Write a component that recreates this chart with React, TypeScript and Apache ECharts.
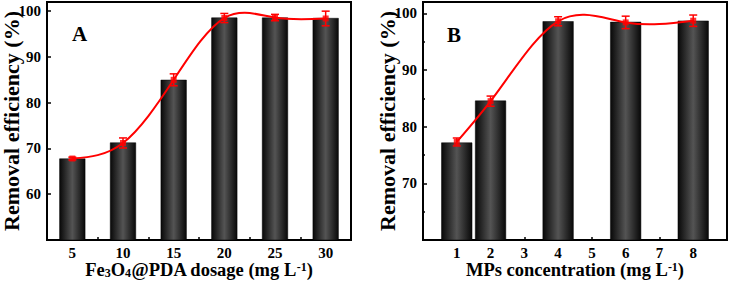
import React, { useEffect, useRef } from "react";
import * as echarts from "echarts";

// Panel A: Fe3O4@PDA dosage
const dosageCategories = ["5", "10", "15", "20", "25", "30"];
const dosageX = [5, 10, 15, 20, 25, 30];
const dosageBarValues = [67.8, 71.3, 85.0, 98.6, 98.6, 98.5];
const dosageLineValues = [67.8, 71.2, 85.0, 98.5, 98.6, 98.4];
const dosageErrors = [0.3, 1.1, 1.3, 1.0, 0.7, 1.6];

// Panel B: MPs concentration
const concX = [1, 2, 4, 6, 8];
const concBarValues = [77.2, 84.6, 98.6, 98.5, 98.7];
const concLineValues = [77.3, 84.5, 98.6, 98.4, 98.7];
const concErrors = [0.7, 0.9, 0.8, 1.1, 1.0];

const yTicksA = [60, 70, 80, 90, 100];
const yTicksB = [70, 80, 90, 100];

const FONT = "'Liberation Serif', 'Times New Roman', serif";

const barGradient = () =>
  new echarts.graphic.LinearGradient(0, 0, 1, 0, [
    { offset: 0, color: "#080808" },
    { offset: 0.5, color: "#545454" },
    { offset: 1, color: "#080808" },
  ]);

// natural cubic spline second derivatives
function splineM(xs: number[], ys: number[]) {
  const n = xs.length;
  const M = new Array(n).fill(0);
  if (n < 3) return M;
  const a: number[] = [], b: number[] = [], c: number[] = [], d: number[] = [];
  for (let i = 1; i < n - 1; i++) {
    const h0 = xs[i] - xs[i - 1];
    const h1 = xs[i + 1] - xs[i];
    a.push(h0);
    b.push(2 * (h0 + h1));
    c.push(h1);
    d.push(6 * ((ys[i + 1] - ys[i]) / h1 - (ys[i] - ys[i - 1]) / h0));
  }
  const m = b.length;
  for (let i = 1; i < m; i++) {
    const w = a[i] / b[i - 1];
    b[i] -= w * c[i - 1];
    d[i] -= w * d[i - 1];
  }
  const sol = new Array(m).fill(0);
  sol[m - 1] = d[m - 1] / b[m - 1];
  for (let i = m - 2; i >= 0; i--) sol[i] = (d[i] - c[i] * sol[i + 1]) / b[i];
  for (let i = 0; i < m; i++) M[i + 1] = sol[i];
  return M;
}

// renders the spline segment between point i and i+1 as a bezier curve
const makeCurveRender = (xs: number[], ys: number[], axisX: (i: number) => number) => {
  const M = splineM(xs, ys);
  return (params: any, api: any) => {
    const i = params.dataIndex;
    if (i >= xs.length - 1) return null;
    const h = xs[i + 1] - xs[i];
    const s0 = (ys[i + 1] - ys[i]) / h - (h / 6) * (2 * M[i] + M[i + 1]);
    const s1 = (ys[i + 1] - ys[i]) / h + (h / 6) * (M[i] + 2 * M[i + 1]);
    const p0 = api.coord([axisX(i), ys[i]]);
    const p1 = api.coord([axisX(i + 1), ys[i + 1]]);
    const c0y = api.coord([axisX(i), ys[i] + (h / 3) * s0])[1];
    const c1y = api.coord([axisX(i + 1), ys[i + 1] - (h / 3) * s1])[1];
    const dx = (p1[0] - p0[0]) / 3;
    return {
      type: "bezierCurve",
      shape: {
        x1: p0[0], y1: p0[1],
        x2: p1[0], y2: p1[1],
        cpx1: p0[0] + dx, cpy1: c0y,
        cpx2: p1[0] - dx, cpy2: c1y,
      },
      style: { stroke: "#ff0000", lineWidth: 2, fill: null },
    };
  };
};

const errorRender = (params: any, api: any) => {
  const x = api.value(0);
  const lo = api.coord([x, api.value(1)]);
  const hi = api.coord([x, api.value(2)]);
  const cap = 4;
  const style = { stroke: "#ff0000", lineWidth: 1.5 };
  return {
    type: "group",
    children: [
      { type: "line", shape: { x1: lo[0], y1: lo[1], x2: hi[0], y2: hi[1] }, style },
      { type: "line", shape: { x1: lo[0] - cap, y1: lo[1], x2: lo[0] + cap, y2: lo[1] }, style },
      { type: "line", shape: { x1: hi[0] - cap, y1: hi[1], x2: hi[0] + cap, y2: hi[1] }, style },
    ],
  };
};

const rich = {
  n: { fontFamily: FONT, fontWeight: "bold", fontSize: 18.5, lineHeight: 18, color: "#000" },
  s: { fontFamily: FONT, fontWeight: "bold", fontSize: 12, lineHeight: 12, color: "#000", padding: [6, 0, 0, 0] },
  p: { fontFamily: FONT, fontWeight: "bold", fontSize: 12, lineHeight: 12, color: "#000", padding: [0, 0, 6, 0] },
};

export default function App() {
  const ref = useRef<HTMLDivElement>(null);
  useEffect(() => {
    if (!ref.current) return;
    const chart = echarts.init(ref.current, null, { renderer: "svg" });
    const axisLine = { show: true, lineStyle: { color: "#000", width: 2 } };
    const tickLabel = { fontFamily: FONT, fontWeight: "bold", fontSize: 15, lineHeight: 14, color: "#000" };
    const yName = "Removal efficiency (%)";
    const yNameStyle = { fontFamily: FONT, fontWeight: "bold", fontSize: 22, lineHeight: 20, color: "#000" };
    chart.setOption({
      animation: false,
      backgroundColor: "#fff",
      grid: [
        { left: 47, top: 2, width: 304, height: 238, show: true, borderColor: "#000", borderWidth: 2, backgroundColor: "transparent", outerBoundsMode: "none", containLabel: false },
        { left: 423, top: 2, width: 304, height: 238, show: true, borderColor: "#000", borderWidth: 2, backgroundColor: "transparent", outerBoundsMode: "none", containLabel: false },
      ],
      xAxis: [
        {
          type: "category",
          gridIndex: 0,
          data: dosageCategories,
          boundaryGap: true,
          axisLine,
          axisTick: { show: true, inside: true, length: 3, lineStyle: { color: "#000", width: 1.5 } },
          axisLabel: { ...tickLabel, margin: 6 },
          splitLine: { show: false },
          name: "{n|Fe}{s|3}{n|O}{s|4}{n|@PDA dosage (mg L}{p|-1}{n|)}",
          nameLocation: "middle",
          nameGap: 21,
          nameMoveOverlap: false,
          nameTextStyle: { rich },
        },
        {
          type: "value",
          gridIndex: 1,
          min: 0,
          max: 9,
          interval: 1,
          axisLine,
          axisTick: { show: true, inside: true, length: 3, lineStyle: { color: "#000", width: 1.5 } },
          axisLabel: {
            ...tickLabel,
            margin: 6,
            formatter: (v: number) => (v >= 1 && v <= 8 ? String(v) : ""),
          },
          splitLine: { show: false },
          name: "{n|MPs concentration (mg L}{p|-1}{n|)}",
          nameLocation: "middle",
          nameGap: 21,
          nameMoveOverlap: false,
          nameTextStyle: { rich },
        },
      ],
      yAxis: [
        {
          type: "value",
          gridIndex: 0,
          min: 50,
          max: 102,
          interval: 10,
          axisLine,
          axisTick: { show: true, inside: true, length: 4, lineStyle: { color: "#000", width: 1.5 } },
          axisLabel: {
            ...tickLabel,
            margin: 6,
            formatter: (v: number) => (yTicksA.includes(v) ? String(v) : ""),
          },
          splitLine: { show: false },
          name: yName,
          nameLocation: "middle",
          nameGap: 26,
          nameMoveOverlap: false,
          nameTextStyle: yNameStyle,
        },
        {
          type: "value",
          gridIndex: 1,
          min: 60,
          max: 102,
          interval: 10,
          axisLine,
          axisTick: { show: true, inside: true, length: 4, lineStyle: { color: "#000", width: 1.5 } },
          minorTick: { show: true, splitNumber: 2, length: 2, lineStyle: { color: "#000", width: 1.5 } },
          axisLabel: {
            ...tickLabel,
            margin: 6,
            formatter: (v: number) => (yTicksB.includes(v) ? String(v) : ""),
          },
          splitLine: { show: false },
          name: yName,
          nameLocation: "middle",
          nameGap: 26,
          nameMoveOverlap: false,
          nameTextStyle: yNameStyle,
        },
      ],
      graphic: [
        { type: "text", left: 72, top: 23, style: { text: "A", fontFamily: FONT, fontWeight: "bold", fontSize: 21, fill: "#000" } },
        { type: "text", left: 447, top: 24, style: { text: "B", fontFamily: FONT, fontWeight: "bold", fontSize: 21, fill: "#000" } },
      ],
      series: [
        {
          type: "bar",
          xAxisIndex: 0,
          yAxisIndex: 0,
          data: dosageBarValues,
          barWidth: 26,
          itemStyle: { color: barGradient(), borderColor: "#000", borderWidth: 0.5 },
          z: 2,
        },
        {
          type: "custom",
          xAxisIndex: 0,
          yAxisIndex: 0,
          data: dosageLineValues.map((v, i) => [i, v]),
          renderItem: makeCurveRender(dosageX, dosageLineValues, (i) => i),
          z: 3,
        },
        {
          type: "custom",
          xAxisIndex: 0,
          yAxisIndex: 0,
          data: dosageLineValues.map((v, i) => [i, v - dosageErrors[i], v + dosageErrors[i]]),
          renderItem: errorRender,
          z: 4,
        },
        {
          type: "scatter",
          xAxisIndex: 0,
          yAxisIndex: 0,
          data: dosageLineValues.map((v, i) => [i, v]),
          symbol: "rect",
          symbolSize: 6,
          itemStyle: { color: "#ff0000" },
          z: 5,
        },
        {
          type: "bar",
          xAxisIndex: 1,
          yAxisIndex: 1,
          data: concX.map((x, i) => [x, concBarValues[i]]),
          barWidth: 31,
          itemStyle: { color: barGradient(), borderColor: "#000", borderWidth: 0.5 },
          z: 2,
        },
        {
          type: "custom",
          xAxisIndex: 1,
          yAxisIndex: 1,
          data: concX.map((x, i) => [x, concLineValues[i]]),
          renderItem: makeCurveRender(concX, concLineValues, (i) => concX[i]),
          z: 3,
        },
        {
          type: "custom",
          xAxisIndex: 1,
          yAxisIndex: 1,
          data: concX.map((x, i) => [x, concLineValues[i] - concErrors[i], concLineValues[i] + concErrors[i]]),
          renderItem: errorRender,
          z: 4,
        },
        {
          type: "scatter",
          xAxisIndex: 1,
          yAxisIndex: 1,
          data: concX.map((x, i) => [x, concLineValues[i]]),
          symbol: "rect",
          symbolSize: 6,
          itemStyle: { color: "#ff0000" },
          z: 5,
        },
      ],
    });
    return () => chart.dispose();
  }, []);
  return (
    <div
      ref={ref}
      style={{ position: "fixed", left: 0, top: 0, width: 731, height: 281, background: "#fff" }}
    />
  );
}
